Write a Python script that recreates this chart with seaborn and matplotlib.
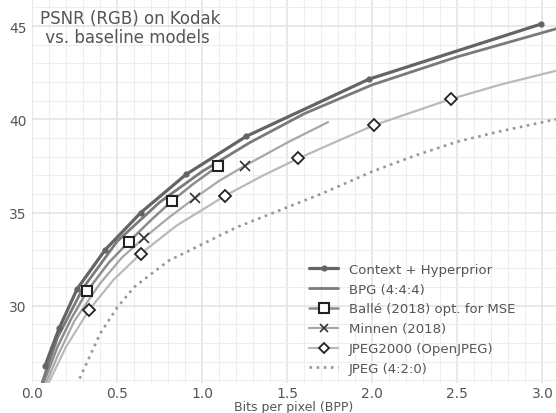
import numpy as np
import pandas as pd
import seaborn as sns
import matplotlib
matplotlib.use("Agg")
import matplotlib.pyplot as plt
from matplotlib.lines import Line2D
from matplotlib.ticker import MultipleLocator

# values (bpp, PSNR dB)
ctx_bpp = [0.076, 0.16, 0.265, 0.43, 0.64, 0.905, 1.26, 1.98, 2.99]
ctx_psnr = [26.77, 28.8, 30.9, 33.0, 35.0, 37.04, 39.09, 42.15, 45.1]

bpg_bpp = [0.06, 0.15, 0.3, 0.5, 0.75, 1.0, 1.28, 1.6, 2.0, 2.5, 3.08]
bpg_psnr = [25.9, 28.3, 30.95, 33.45, 35.55, 37.2, 38.75, 40.3, 41.85, 43.35, 44.85]

balle_line_bpp = [0.07, 0.15, 0.23, 0.325, 0.45, 0.57, 0.7, 0.82, 0.95, 1.095]
balle_line_psnr = [25.9, 27.8, 29.3, 30.8, 32.3, 33.44, 34.6, 35.6, 36.55, 37.5]
balle_bpp = [0.325, 0.57, 0.82, 1.095]
balle_psnr = [30.8, 33.44, 35.6, 37.5]

minnen_line_bpp = [0.085, 0.15, 0.25, 0.4, 0.53, 0.66, 0.8, 0.96, 1.1, 1.25, 1.5, 1.74]
minnen_line_psnr = [25.9, 27.3, 29.2, 31.2, 32.6, 33.65, 34.7, 35.8, 36.7, 37.5, 38.75, 39.85]
minnen_bpp = [0.66, 0.96, 1.25]
minnen_psnr = [33.65, 35.8, 37.5]

j2k_line_bpp = [0.1, 0.2, 0.337, 0.48, 0.64, 0.85, 1.135, 1.35, 1.565, 1.8, 2.01, 2.46, 2.75, 3.08]
j2k_line_psnr = [25.9, 27.8, 29.8, 31.4, 32.8, 34.3, 35.9, 36.95, 37.9, 38.85, 39.68, 41.08, 41.85, 42.6]
j2k_bpp = [0.337, 0.64, 1.135, 1.565, 2.01, 2.46]
j2k_psnr = [29.8, 32.8, 35.9, 37.9, 39.68, 41.08]

jpeg_bpp = [0.28, 0.4, 0.5, 0.6, 0.8, 1.0, 1.2, 1.45, 1.7, 2.0, 2.25, 2.5, 2.75, 3.08]
jpeg_psnr = [26.1, 28.5, 29.9, 31.0, 32.4, 33.3, 34.2, 35.1, 36.0, 37.2, 38.05, 38.8, 39.35, 40.0]

labels = ["Context + Hyperprior", "BPG (4:4:4)", "Ballé (2018) opt. for MSE",
          "Minnen (2018)", "JPEG2000 (OpenJPEG)", "JPEG (4:2:0)"]

sns.set_style("whitegrid")
plt.rcParams['font.family'] = ['DejaVu Sans']

fig = plt.figure(figsize=(5.56, 4.14), dpi=100)
ax = fig.add_axes([32 / 556, 1 - 384 / 414, 524 / 556, 384 / 414])

c_ctx, c_bpg, c_balle, c_minnen, c_j2k, c_jpeg = "#646464", "#7a7a7a", "#8c8c8c", "#a8a8a8", "#bababa", "#979797"
jpeg_dash = (0, (1, 1.7))

sns.lineplot(x=jpeg_bpp, y=jpeg_psnr, ax=ax, color=c_jpeg, linewidth=1.9,
             linestyle=jpeg_dash, sort=False, estimator=None)
sns.lineplot(x=j2k_line_bpp, y=j2k_line_psnr, ax=ax, color=c_j2k, linewidth=1.6,
             sort=False, estimator=None)
sns.lineplot(x=minnen_line_bpp, y=minnen_line_psnr, ax=ax, color=c_minnen, linewidth=1.6,
             sort=False, estimator=None)
sns.lineplot(x=balle_line_bpp, y=balle_line_psnr, ax=ax, color=c_balle, linewidth=1.8,
             sort=False, estimator=None)
sns.lineplot(x=bpg_bpp, y=bpg_psnr, ax=ax, color=c_bpg, linewidth=2.0,
             sort=False, estimator=None)
sns.lineplot(x=ctx_bpp, y=ctx_psnr, ax=ax, color=c_ctx, linewidth=2.3, marker='o',
             markersize=4.5, markeredgewidth=0, sort=False, estimator=None)

# markers
sns.lineplot(x=balle_bpp, y=balle_psnr, ax=ax, linestyle='', marker='s', markersize=7.5,
             markerfacecolor='white', markeredgecolor='#222222', markeredgewidth=1.5,
             sort=False, estimator=None)
sns.lineplot(x=minnen_bpp, y=minnen_psnr, ax=ax, linestyle='', marker='x', markersize=7,
             markeredgecolor='#333333', markeredgewidth=1.2, color='#333333',
             sort=False, estimator=None)
sns.lineplot(x=j2k_bpp, y=j2k_psnr, ax=ax, linestyle='', marker='D', markersize=6,
             markerfacecolor='white', markeredgecolor='#222222', markeredgewidth=1.3,
             sort=False, estimator=None)

ax.set_xlim(0, 3.08)
ax.set_ylim(25.86, 46.45)
ax.xaxis.set_major_locator(MultipleLocator(0.5))
ax.xaxis.set_minor_locator(MultipleLocator(0.1))
ax.yaxis.set_major_locator(MultipleLocator(5))
ax.yaxis.set_minor_locator(MultipleLocator(1))
ax.grid(which='major', color='#e2e2e2', linewidth=1.1)
ax.grid(which='minor', color='#eeeeee', linewidth=0.8)
ax.set_axisbelow(True)
for s in ax.spines.values():
    s.set_visible(False)
ax.tick_params(which='both', length=0, labelsize=10, labelcolor='#555555')
ax.tick_params(axis='y', pad=4)
ax.tick_params(axis='x', pad=2)
ax.set_yticks([30, 35, 40, 45])
ax.set_xlabel("Bits per pixel (BPP)", fontsize=9, color='#555555', labelpad=0)
ax.set_ylabel("")

ax.text(8 / 524, 1 - 10 / 384, "PSNR (RGB) on Kodak\n vs. baseline models",
        transform=ax.transAxes, ha='left', va='top', fontsize=12,
        color='#555555', linespacing=1.05)

handles = [
    Line2D([], [], color=c_ctx, lw=2.3, marker='o', ms=4.5, mew=0),
    Line2D([], [], color=c_bpg, lw=2.0),
    Line2D([], [], color=c_balle, lw=1.8, marker='s', ms=6.5, mfc='white', mec='#222222', mew=1.5),
    Line2D([], [], color=c_minnen, lw=1.6, marker='x', ms=6, mec='#333333', mew=1.2),
    Line2D([], [], color=c_j2k, lw=1.6, marker='D', ms=5, mfc='white', mec='#222222', mew=1.3),
    Line2D([], [], color=c_jpeg, lw=1.9, linestyle=jpeg_dash),
]
leg = ax.legend(handles, labels, loc='lower left', bbox_to_anchor=((309 - 32) / 524, (384 - 376) / 384),
                frameon=False, fontsize=9.5, borderpad=0, borderaxespad=0,
                handlelength=2.2, handletextpad=0.8, labelspacing=0.52)
for t in leg.get_texts():
    t.set_color('#555555')

fig.savefig("out.png", dpi=100)
